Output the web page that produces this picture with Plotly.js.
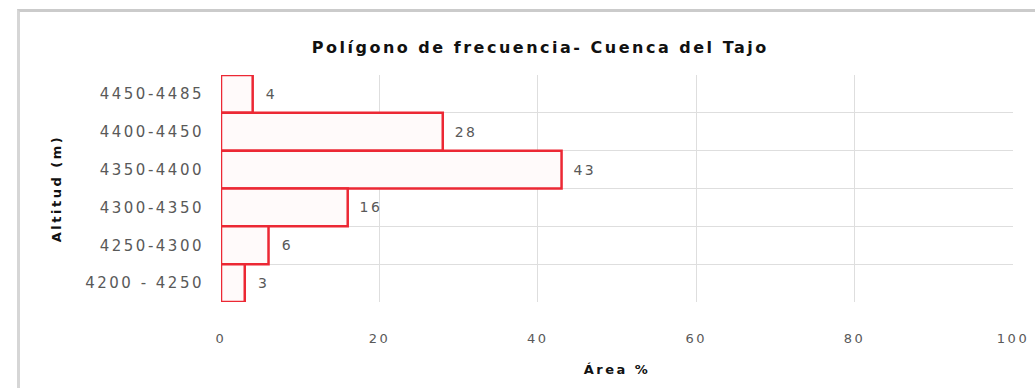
<!DOCTYPE html>
<html>
<head>
<meta charset="utf-8">
<script src="https://cdn.plot.ly/plotly-3.0.1.min.js"></script>
<style>
  html, body { margin: 0; padding: 0; background: #ffffff; }
  #wrap { position: relative; width: 1035px; height: 388px; overflow: hidden; }
  #frame { position: absolute; left: 17px; top: 9px; width: 1030px; height: 390px;
           border-top: 3px solid #cbcbcb; border-left: 3px solid #d6d6d6; background: #ffffff; }
  #chart { position: absolute; left: 0; top: 0; width: 1035px; height: 388px; }
  #chart text { letter-spacing: 2.5px; }
</style>
</head>
<body>
<div id="wrap">
  <div id="frame"></div>
  <div id="chart"></div>
</div>
<script>
const categories = ["4450-4485", "4400-4450", "4350-4400", "4300-4350", "4250-4300", "4200 - 4250"];
const areaPct = [4, 28, 43, 16, 6, 3];
const xTicks = [0, 20, 40, 60, 80, 100];

const FONT = '"DejaVu Sans", Verdana, sans-serif';

const trace = {
  type: 'bar',
  orientation: 'h',
  y: categories,
  x: areaPct,
  text: areaPct.map(v => '  ' + v),
  textposition: 'outside',
  cliponaxis: false,
  textfont: { family: FONT, size: 14, color: '#595959' },
  marker: { color: '#fffafa', line: { color: 'rgb(236,40,52)', width: 2.5 } },
  hoverinfo: 'skip'
};

const layout = {
  width: 1035, height: 388,
  margin: { l: 221, r: 22, t: 75, b: 86 },
  paper_bgcolor: 'rgba(0,0,0,0)',
  plot_bgcolor: '#ffffff',
  bargap: 0,
  showlegend: false,
  title: {
    text: 'Polígono de frecuencia- Cuenca del Tajo',
    font: { family: FONT, size: 16, color: '#111111', weight: 'bold' },
    xref: 'container', x: 0.522, xanchor: 'center',
    yref: 'container', y: 0.879, yanchor: 'middle'
  },
  xaxis: {
    range: [0, 100],
    tickvals: xTicks,
    ticktext: xTicks.map(String),
    showgrid: true, gridcolor: '#dedede', gridwidth: 1,
    zeroline: false, showline: false,
    ticks: 'outside', ticklen: 24, tickcolor: 'rgba(0,0,0,0)',
    tickfont: { family: FONT, size: 13, color: '#595959' },
    title: { text: 'Área %', standoff: 20,
             font: { family: FONT, size: 13, color: '#111111', weight: 'bold' } }
  },
  yaxis: {
    type: 'category',
    autorange: 'reversed',
    tickson: 'boundaries',
    showgrid: true, gridcolor: '#dedede', gridwidth: 1,
    showline: false, zeroline: false,
    ticks: '',
    ticklabelstandoff: 16,
    tickfont: { family: FONT, size: 15, color: '#595959' },
    title: { text: 'Altitud (m)', standoff: 48,
             font: { family: FONT, size: 13, color: '#111111', weight: 'bold' } }
  }
};

Plotly.newPlot('chart', [trace], layout, { displayModeBar: false, staticPlot: true });
</script>
</body>
</html>
